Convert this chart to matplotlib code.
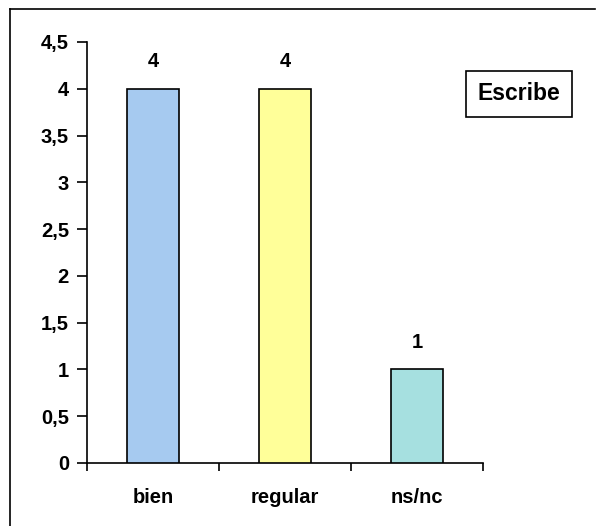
import matplotlib
matplotlib.use("Agg")
import matplotlib.pyplot as plt
from matplotlib.lines import Line2D

categories = ["bien", "regular", "ns/nc"]
values = [4, 4, 1]
colors = ["#A6CAF0", "#FFFF99", "#A6E0E0"]
yticks = [0, 0.5, 1, 1.5, 2, 2.5, 3, 3.5, 4, 4.5]
ytick_labels = ["0", "0,5", "1", "1,5", "2", "2,5", "3", "3,5", "4", "4,5"]
legend_text = "Escribe"

plt.rcParams['font.family'] = ['Liberation Sans', 'DejaVu Sans']
plt.rcParams['font.weight'] = 'bold'

W, H = 597, 526
fig = plt.figure(figsize=(W / 100, H / 100), dpi=100)
ax = fig.add_axes([87 / W, (H - 463) / H, (483 - 87) / W, (463 - 42) / H])

x = list(range(len(categories)))
bars = ax.bar(x, values, width=0.39, color=colors, edgecolor="black", linewidth=1.2, zorder=3)

ax.set_xlim(-0.5, len(categories) - 0.5)
ax.set_ylim(0, 4.5)
ax.set_yticks(yticks)
ax.set_yticklabels(ytick_labels, fontsize=14.5, fontweight='bold')
ax.tick_params(axis='y', direction='out', length=7, width=1.2, pad=6)

ax.set_xticks([i - 0.5 for i in range(len(categories) + 1)])
ax.set_xticklabels([])
ax.tick_params(axis='x', which='major', direction='out', length=6, width=1.2)
ax.set_xticks(x, minor=True)
ax.set_xticklabels(categories, minor=True, fontsize=14.5, fontweight='bold')
ax.tick_params(axis='x', which='minor', length=0, pad=18)

for s in ['top', 'right']:
    ax.spines[s].set_visible(False)
for s in ['left', 'bottom']:
    ax.spines[s].set_linewidth(1.2)

for xi, v in zip(x, values):
    ax.annotate(str(v), (xi, v), xytext=(0, 27), textcoords='offset pixels',
                ha='center', va='center', fontsize=14.5, fontweight='bold')

fig.text(519 / W, 1 - 94 / H, legend_text, ha='center', va='center', fontsize=16.5,
         fontweight='bold',
         bbox=dict(boxstyle='square,pad=0.5', facecolor='white', edgecolor='black', linewidth=1.2))

# outer frame (partially visible)
fig.add_artist(Line2D([10 / W, 10 / W], [0, 1 - 9 / H], transform=fig.transFigure, color='black', linewidth=1.2))
fig.add_artist(Line2D([10 / W, 595 / W], [1 - 9 / H, 1 - 9 / H], transform=fig.transFigure, color='black', linewidth=1.2))

fig.savefig("out.png", dpi=100)
